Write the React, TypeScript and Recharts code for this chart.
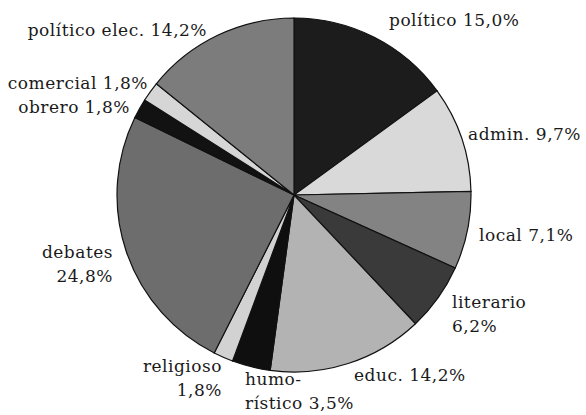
import React from 'react';
import { PieChart, Pie, Cell } from 'recharts';

// categories (clockwise from 12 o'clock) and their shares in %
const categories = [
  'político',
  'admin.',
  'local',
  'literario',
  'educ.',
  'humorístico',
  'religioso',
  'debates',
  'obrero',
  'comercial',
  'político elec.',
];
const shares = [15.0, 9.7, 7.1, 6.2, 14.2, 3.5, 1.8, 24.8, 1.8, 1.8, 14.2];

// label lines as printed (name split where the figure breaks it)
const labelLines: string[][] = [
  ['político {v}'],
  ['admin. {v}'],
  ['local {v}'],
  ['literario', '{v}'],
  ['educ. {v}'],
  ['humo-', 'rístico {v}'],
  ['religioso', '{v}'],
  ['debates', '{v}'],
  ['obrero {v}'],
  ['comercial {v}'],
  ['político elec. {v}'],
];

const fills = [
  '#1c1c1c', '#d9d9d9', '#838383', '#3a3a3a', '#b3b3b3', '#0f0f0f',
  '#d2d2d2', '#6d6d6d', '#121212', '#d6d6d6', '#7c7c7c',
];

// where each label sits: x, baseline y, anchor
const labelLayout: { x: number; y: number; anchor: 'start' | 'end' }[] = [
  { x: 389, y: 26, anchor: 'start' },
  { x: 468, y: 140, anchor: 'start' },
  { x: 479, y: 241, anchor: 'start' },
  { x: 452, y: 308, anchor: 'start' },
  { x: 354, y: 381, anchor: 'start' },
  { x: 245, y: 385, anchor: 'start' },
  { x: 222, y: 372, anchor: 'end' },
  { x: 113, y: 258, anchor: 'end' },
  { x: 130, y: 113, anchor: 'end' },
  { x: 148, y: 89, anchor: 'end' },
  { x: 207, y: 36, anchor: 'end' },
];

const fmt = (v: number) => v.toFixed(1).replace('.', ',') + '%';

const data = categories.map((name, i) => ({ name, value: shares[i] }));

const FONT = '"DejaVu Serif", serif';

function Labels() {
  return (
    <g>
      {labelLayout.map((l, i) => (
        <text
          key={categories[i]}
          x={l.x}
          y={l.y}
          textAnchor={l.anchor}
          fontFamily={FONT}
          fontSize={17}
          letterSpacing={0.5}
          fill="#1a1a1a"
        >
          {labelLines[i].map((line, j) => (
            <tspan key={j} x={l.x} dy={j === 0 ? 0 : 24}>
              {line.replace('{v}', fmt(shares[i]))}
            </tspan>
          ))}
        </text>
      ))}
    </g>
  );
}

export default function App() {
  return (
    <div style={{ position: 'absolute', left: 0, top: 0, background: '#fff' }}>
      <PieChart width={586} height={415} margin={{ top: 0, right: 0, bottom: 0, left: 0 }}>
        <Pie
          data={data}
          dataKey="value"
          nameKey="name"
          cx={294}
          cy={195}
          outerRadius={177}
          startAngle={90}
          endAngle={-270}
          stroke="#111"
          strokeWidth={1.2}
          label={false}
          labelLine={false}
          isAnimationActive={false}
        >
          {data.map((d, i) => (
            <Cell key={d.name} fill={fills[i]} />
          ))}
        </Pie>
        <Labels />
      </PieChart>
    </div>
  );
}
